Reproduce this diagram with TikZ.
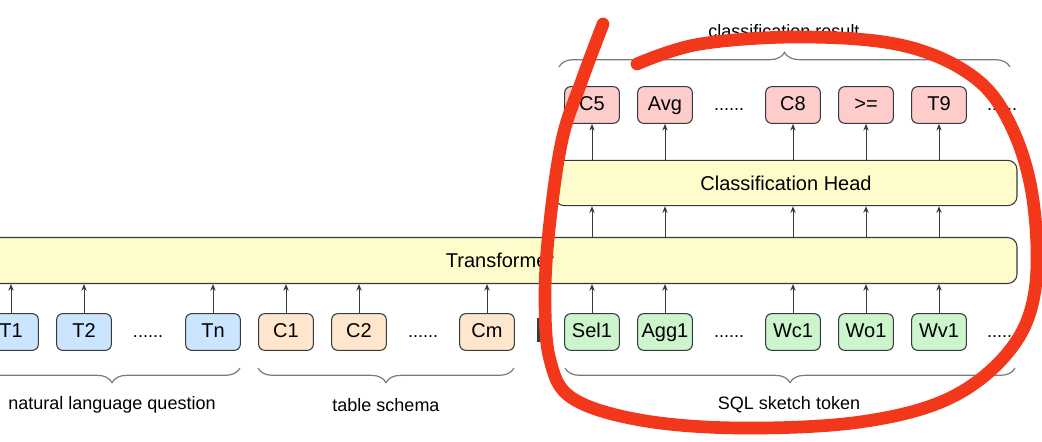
\documentclass[tikz,border=0pt]{standalone}
\usepackage{fontspec}
\setmainfont{Liberation Sans}
\usetikzlibrary{arrows.meta,decorations.pathreplacing}
\definecolor{bluefill}{HTML}{CCE5FF}
\definecolor{orangefill}{HTML}{FFE6CC}
\definecolor{greenfill}{HTML}{CCF5CC}
\definecolor{pinkfill}{HTML}{FFCCCC}
\definecolor{yellowfill}{HTML}{FFFCCC}
\definecolor{edge}{HTML}{36393D}
\definecolor{bracegray}{HTML}{7A7A7A}
\definecolor{scribble}{HTML}{F2371B}
\begin{document}
\begin{tikzpicture}[x=0.75pt,y=-0.75pt,
  tok/.style={draw=edge,line width=0.8pt,rounded corners=4.5pt,minimum width=41pt,minimum height=27.5pt,inner sep=0pt,font=\fontsize{15}{18}\selectfont,text height=10.8pt,text depth=3pt},
  dotsnode/.style={inner sep=0pt,font=\fontsize{13.5}{16}\selectfont,text height=10.8pt,text depth=3pt},
  bar/.style={draw=edge,line width=0.8pt,rounded corners=7pt,fill=yellowfill,inner sep=0pt,font=\fontsize{15}{18}\selectfont},
  arr/.style={draw=edge,line width=0.75pt,-{Stealth[length=5pt,width=4pt]}},
  curly/.style={draw=bracegray,line width=0.9pt,decorate,decoration={brace,amplitude=11pt}},
  lbl/.style={inner sep=0pt,font=\fontsize{13.5}{16}\selectfont}]
\useasboundingbox (0,0) rectangle (1042,442);
\clip (0,0) rectangle (1042,442);

% big bars
\node[bar,minimum width=775.5pt,minimum height=34.5pt] (tr) at (500,260.5) {Transformer};
\node[bar,minimum width=346.5pt,minimum height=34pt] (ch) at (786,183) {Classification Head};

% bottom tokens
\node[tok,fill=bluefill] (t1) at (11,332) {T1};
\node[tok,fill=bluefill] (t2) at (84,332) {T2};
\node[dotsnode] (d1) at (148,332) {......};
\node[tok,fill=bluefill] (tn) at (213,332) {Tn};
\node[tok,fill=orangefill] (c1) at (286,332) {C1};
\node[tok,fill=orangefill] (c2) at (359,332) {C2};
\node[dotsnode] (d2) at (423,332) {......};
\node[tok,fill=orangefill] (cm) at (487,332) {Cm};
\node[fill=edge,minimum width=3pt,minimum height=18pt,inner sep=0pt] (sep) at (539,330) {};
\node[tok,fill=greenfill] (sel1) at (592,332) {Sel1};
\node[tok,fill=greenfill] (agg1) at (665,332) {Agg1};
\node[dotsnode] (d3) at (729,332) {......};
\node[tok,fill=greenfill] (wc1) at (793,332) {Wc1};
\node[tok,fill=greenfill] (wo1) at (866,332) {Wo1};
\node[tok,fill=greenfill] (wv1) at (939,332) {Wv1};
\node[dotsnode] (d4) at (1002,332) {......};

% top tokens
\node[tok,fill=pinkfill] (r1) at (592,105) {C5};
\node[tok,fill=pinkfill] (r2) at (665,105) {Avg};
\node[dotsnode] (d5) at (729,105) {......};
\node[tok,fill=pinkfill] (r3) at (793,105) {C8};
\node[tok,fill=pinkfill] (r4) at (866,105) {>=};
\node[tok,fill=pinkfill] (r5) at (939,105) {T9};
\node[dotsnode] (d6) at (1002,105) {......};

% arrows tokens -> transformer
\foreach \n in {t1,t2,tn,c1,c2,cm,sel1,agg1,wc1,wo1,wv1}
  \draw[arr] (\n.north) -- (\n.north |- tr.south);
% transformer -> head, head -> results
\foreach \n/\r in {sel1/r1,agg1/r2,wc1/r3,wo1/r4,wv1/r5}{
  \draw[arr] (\n.north |- tr.north) -- (\n.north |- ch.south);
  \draw[arr] (\r.south |- ch.north) -- (\r.south);
}

% braces
\coordinate (b1l) at (-16,368); \coordinate (b1r) at (240,368);
\coordinate (b2l) at (258,368); \coordinate (b2r) at (514,368);
\coordinate (b3l) at (565,368); \coordinate (b3r) at (1015,368);
\coordinate (b4l) at (559,67);  \coordinate (b4r) at (1010,67);
\draw[curly] (b1r) -- (b1l);
\draw[curly] (b2r) -- (b2l);
\draw[curly] (b3r) -- (b3l);
\draw[curly] (b4l) -- (b4r);

\node[lbl] (l1) at (112,405) {natural language question};
\node[lbl] (l2) at (386,405) {table schema};
\node[lbl] (l3) at (789,405) {SQL sketch token};
\node[lbl] (l4) at (784,31) {classification result};

% red hand-drawn annotation
\draw[scribble,line width=9.5pt,line cap=round,line join=round]
  plot[smooth,tension=0.6] coordinates {(603,24) (582,80) (562,140) (549,230) (545,300) (550,360) (572,398) (640,420) (740,428) (860,422) (950,398) (1010,350) (1035,290) (1033,200) (1012,128) (975,78) (905,46) (805,37) (700,44) (637,64)};
\end{tikzpicture}
\end{document}
